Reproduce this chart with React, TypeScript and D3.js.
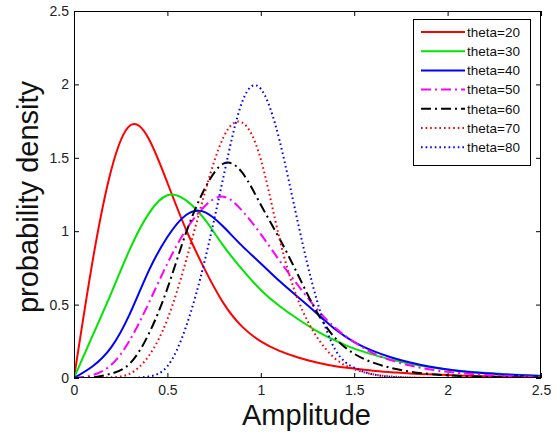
import React, { useRef, useEffect } from "react";
import * as d3 from "d3";

// amplitude grid (x) and density for each theta
const amplitude = [0, 0.1, 0.2, 0.3, 0.4, 0.5, 0.6, 0.7, 0.8, 0.9, 1.0, 1.1, 1.2, 1.3, 1.4, 1.5, 1.6, 1.7, 1.8, 1.9, 2.0, 2.1, 2.2, 2.3, 2.4, 2.5];

const theta20 = [0, 0.8, 1.42, 1.72, 1.63, 1.33, 1.01, 0.74, 0.51, 0.35, 0.25, 0.185, 0.14, 0.105, 0.08, 0.064, 0.05, 0.04, 0.031, 0.025, 0.02, 0.016, 0.012, 0.01, 0.008, 0.006];
const theta30 = [0, 0.29, 0.58, 0.88, 1.12, 1.245, 1.21, 1.08, 0.9, 0.74, 0.6, 0.49, 0.4, 0.32, 0.255, 0.2, 0.16, 0.125, 0.097, 0.075, 0.058, 0.045, 0.035, 0.027, 0.021, 0.016];
const theta40 = [0, 0.08, 0.21, 0.44, 0.73, 0.96, 1.11, 1.13, 1.03, 0.9, 0.78, 0.66, 0.55, 0.44, 0.33, 0.245, 0.185, 0.14, 0.105, 0.078, 0.058, 0.043, 0.032, 0.024, 0.018, 0.013];
const theta50 = [0, 0.02, 0.09, 0.26, 0.51, 0.78, 1.01, 1.17, 1.235, 1.14, 0.98, 0.8, 0.63, 0.47, 0.34, 0.245, 0.17, 0.12, 0.085, 0.06, 0.042, 0.03, 0.021, 0.015, 0.011, 0.008];
const theta60 = [0, 0.005, 0.03, 0.1, 0.3, 0.61, 0.99, 1.29, 1.46, 1.4, 1.18, 0.95, 0.7, 0.45, 0.27, 0.165, 0.105, 0.068, 0.043, 0.028, 0.018, 0.012, 0.008, 0.005, 0.003, 0.002];
const theta70 = [0, 0, 0.005, 0.03, 0.15, 0.4, 0.8, 1.26, 1.64, 1.74, 1.49, 0.95, 0.53, 0.28, 0.13, 0.06, 0.025, 0.01, 0.004, 0.001, 0, 0, 0, 0, 0, 0];
const theta80 = [0, 0, 0, 0, 0.01, 0.08, 0.35, 0.8, 1.37, 1.88, 1.97, 1.62, 1.05, 0.53, 0.19, 0.07, 0.025, 0.008, 0.002, 0, 0, 0, 0, 0, 0, 0];

const legendLabels = ["theta=20", "theta=30", "theta=40", "theta=50", "theta=60", "theta=70", "theta=80"];
const seriesValues = [theta20, theta30, theta40, theta50, theta60, theta70, theta80];

const xTicks = [0, 0.5, 1, 1.5, 2, 2.5];
const xTickLabels = ["0", "0.5", "1", "1.5", "2", "2.5"];
const yTicks = [0, 0.5, 1, 1.5, 2, 2.5];
const yTickLabels = ["0", "0.5", "1", "1.5", "2", "2.5"];

const FONT = "'Liberation Sans', Arial, Helvetica, sans-serif";

function DensityChart() {
  const svgRef = useRef<SVGSVGElement>(null);

  useEffect(() => {
    const svg = d3.select(svgRef.current);
    svg.selectAll("*").remove();

    const width = 557;
    const height = 435;
    const left = 74, right = 541, top = 11, bottom = 378;

    // line styles, same order as the legend
    const styles = [
      { color: "#ff0000", dash: null, w: 2 },
      { color: "#00e600", dash: null, w: 2 },
      { color: "#0000ff", dash: null, w: 2 },
      { color: "#ff00ff", dash: "10 4 2 4", w: 2 },
      { color: "#000000", dash: "10 4 2 4", w: 2 },
      { color: "#ff0000", dash: "1.6 3", w: 2 },
      { color: "#0000ff", dash: "1.6 3", w: 2 },
    ];

    const x = d3.scaleLinear().domain([0, 2.5]).range([left, right]);
    const y = d3.scaleLinear().domain([0, 2.5]).range([bottom, top]);

    svg.append("rect").attr("width", width).attr("height", height).attr("fill", "#fff");

    svg.append("defs").append("clipPath").attr("id", "plotclip")
      .append("rect")
      .attr("x", left).attr("y", top)
      .attr("width", right - left).attr("height", bottom - top);

    // curves
    const line = d3.line<number>()
      .x((d, i) => x(amplitude[i]))
      .y((d) => y(d))
      .curve(d3.curveNatural);

    const curves = svg.append("g").attr("clip-path", "url(#plotclip)");
    seriesValues.forEach((vals, i) => {
      const s = styles[i];
      curves.append("path")
        .datum(vals)
        .attr("d", line)
        .attr("fill", "none")
        .attr("stroke", s.color)
        .attr("stroke-width", s.w)
        .attr("stroke-dasharray", s.dash)
        .attr("stroke-linejoin", "round");
    });

    // axes, MATLAB box with inward ticks
    const xAxis = d3.axisBottom(x).tickValues(xTicks)
      .tickFormat((d, i) => xTickLabels[i]).tickSize(-5).tickSizeOuter(0).tickPadding(7);
    const yAxis = d3.axisLeft(y).tickValues(yTicks)
      .tickFormat((d, i) => yTickLabels[i]).tickSize(-5).tickSizeOuter(0).tickPadding(5);

    const gx = svg.append("g").attr("transform", `translate(0,${bottom})`).call(xAxis);
    const gy = svg.append("g").attr("transform", `translate(${left},0)`).call(yAxis);
    svg.append("g").attr("transform", `translate(0,${top})`)
      .call(d3.axisTop(x).tickValues(xTicks).tickFormat(() => "").tickSize(-5).tickSizeOuter(0));
    svg.append("g").attr("transform", `translate(${right},0)`)
      .call(d3.axisRight(y).tickValues(yTicks).tickFormat(() => "").tickSize(-5).tickSizeOuter(0));

    svg.selectAll(".domain").remove();
    [gx, gy].forEach((g) => {
      g.selectAll("text")
        .style("font-family", FONT)
        .style("font-size", "14px")
        .attr("fill", "#222");
    });

    svg.append("rect")
      .attr("x", left + 0.5).attr("y", top + 0.5)
      .attr("width", right - left - 1).attr("height", bottom - top - 1)
      .attr("fill", "none").attr("stroke", "#000").attr("stroke-width", 1);

    // axis titles
    svg.append("text")
      .attr("x", (left + right) / 2 - 1).attr("y", 425)
      .attr("text-anchor", "middle")
      .style("font-family", FONT).style("font-size", "29px")
      .attr("fill", "#111")
      .text("Amplitude");

    svg.append("text")
      .attr("transform", `translate(38,197) rotate(-90)`)
      .attr("text-anchor", "middle")
      .style("font-family", FONT).style("font-size", "29px")
      .attr("fill", "#111")
      .text("probability density");

    // legend
    const lg = svg.append("g");
    lg.append("rect")
      .attr("x", 413.5).attr("y", 19.5).attr("width", 117).attr("height", 146)
      .attr("fill", "#fff").attr("stroke", "#000").attr("stroke-width", 1);
    legendLabels.forEach((label, i) => {
      const s = styles[i];
      const cy = 32 + i * 19.2;
      lg.append("line")
        .attr("x1", 421).attr("x2", 465).attr("y1", cy).attr("y2", cy)
        .attr("stroke", s.color).attr("stroke-width", s.w)
        .attr("stroke-dasharray", s.dash);
      lg.append("text")
        .attr("x", 467).attr("y", cy)
        .attr("dy", "0.36em")
        .style("font-family", FONT).style("font-size", "13.5px")
        .attr("fill", "#111")
        .text(label);
    });
  }, []);

  return (
    <svg ref={svgRef} width={557} height={435}
      style={{ position: "absolute", left: 0, top: 0, display: "block" }} />
  );
}

export default function App() {
  return <DensityChart />;
}
